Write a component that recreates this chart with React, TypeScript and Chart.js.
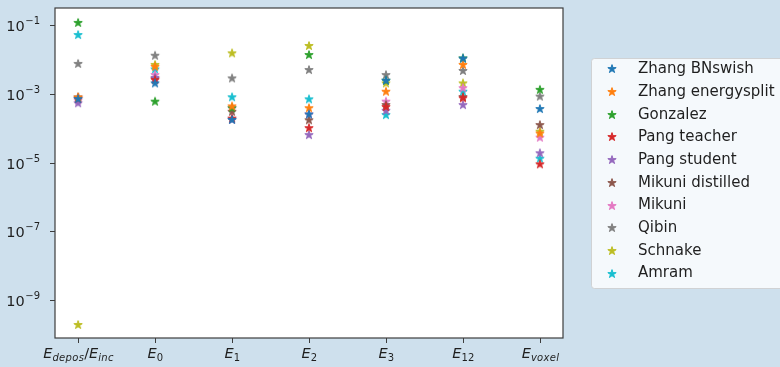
import React, { useEffect, useRef } from "react";
import { Chart, registerables } from "chart.js";

Chart.register(...registerables);

// ---------- data ----------
const categories = ["E_{depos}/E_{inc}", "E_{0}", "E_{1}", "E_{2}", "E_{3}", "E_{12}", "E_{voxel}"];

const seriesNames = [
  "Zhang BNswish",
  "Zhang energysplit",
  "Gonzalez",
  "Pang teacher",
  "Pang student",
  "Mikuni distilled",
  "Mikuni",
  "Qibin",
  "Schnake",
  "Amram",
];

const seriesColors = [
  "#1f77b4",
  "#ff7f0e",
  "#2ca02c",
  "#d62728",
  "#9467bd",
  "#8c564b",
  "#e377c2",
  "#7f7f7f",
  "#bcbd22",
  "#17becf",
];

const zhangBNswish = [7.0e-4, 2.0e-3, 1.75e-4, 2.5e-4, 2.4e-3, 1.05e-2, 3.6e-4];
const zhangEnergysplit = [7.8e-4, 6.1e-3, 4.3e-4, 3.8e-4, 1.15e-3, 6.9e-3, 7.0e-5];
const gonzalez = [1.15e-1, 5.9e-4, 3.8e-4, 1.34e-2, 2.4e-3, 1.07e-2, 1.3e-3];
const pangTeacher = [7.2e-4, 2.5e-3, 1.9e-4, 1.0e-4, 4.1e-4, 7.4e-4, 8.9e-6];
const pangStudent = [5.3e-4, 2.9e-3, 1.75e-4, 6.3e-5, 3.2e-4, 4.7e-4, 1.86e-5];
const mikuniDistilled = [7.8e-4, 2.7e-3, 3.0e-4, 1.7e-4, 4.7e-4, 8.0e-4, 1.23e-4];
const mikuni = [6.4e-4, 3.5e-3, 3.8e-4, 2.5e-4, 5.9e-4, 1.45e-3, 5.3e-5];
const qibin = [7.4e-3, 1.28e-2, 2.8e-3, 4.9e-3, 3.5e-3, 4.6e-3, 8.3e-4];
const schnake = [1.9e-10, 6.9e-3, 1.5e-2, 2.45e-2, 2.0e-3, 2.0e-3, 7.9e-5];
const amram = [5.1e-2, 5.1e-3, 7.9e-4, 6.9e-4, 2.4e-4, 1.15e-3, 1.3e-5];

const seriesValues = [
  zhangBNswish,
  zhangEnergysplit,
  gonzalez,
  pangTeacher,
  pangStudent,
  mikuniDistilled,
  mikuni,
  qibin,
  schnake,
  amram,
];

const yTickValues = [1e-9, 1e-7, 1e-5, 1e-3, 1e-1];
const yTickExponents = ["\u22129", "\u22127", "\u22125", "\u22123", "\u22121"];
const yTickBase = "10";

// ---------- helpers ----------
const FONT = '"DejaVu Sans"';
const BG = "rgb(206,224,237)";

function makeStar(color: string, r = 4.4): HTMLCanvasElement {
  const size = 12;
  const c = document.createElement("canvas");
  c.width = size;
  c.height = size;
  const ctx = c.getContext("2d")!;
  ctx.translate(size / 2, size / 2);
  ctx.beginPath();
  for (let i = 0; i < 10; i++) {
    const rad = i % 2 === 0 ? r : r * 0.381966;
    const a = -Math.PI / 2 + (i * Math.PI) / 5;
    const x = rad * Math.cos(a);
    const y = rad * Math.sin(a);
    if (i === 0) ctx.moveTo(x, y);
    else ctx.lineTo(x, y);
  }
  ctx.closePath();
  ctx.fillStyle = color;
  ctx.fill();
  ctx.strokeStyle = color;
  ctx.lineWidth = 1;
  ctx.stroke();
  return c;
}

type Seg = { text: string; sub: boolean };
function parseLabel(label: string): Seg[] {
  const segs: Seg[] = [];
  const re = /_\{([^}]*)\}|([^_]+)/g;
  let m: RegExpExecArray | null;
  while ((m = re.exec(label))) {
    if (m[1] !== undefined) segs.push({ text: m[1], sub: true });
    else segs.push({ text: m[2], sub: false });
  }
  return segs;
}

function charFont(ch: string, sub: boolean): string {
  const size = sub ? 10 : 14.5;
  const italic = /[A-Za-z]/.test(ch);
  return `${italic ? "italic " : ""}${size}px ${FONT}`;
}

const decorPlugin = {
  id: "decor",
  beforeDraw(chart: any) {
    const { ctx, chartArea: a } = chart;
    ctx.save();
    ctx.fillStyle = BG;
    ctx.fillRect(0, 0, chart.width, chart.height);
    ctx.fillStyle = "#ffffff";
    ctx.fillRect(a.left, a.top, a.right - a.left, a.bottom - a.top);
    ctx.restore();
  },
  afterDraw(chart: any) {
    const { ctx, chartArea: a } = chart;
    const xs = chart.scales.x;
    const ys = chart.scales.y;
    ctx.save();

    // spines
    ctx.strokeStyle = "#3d3d3d";
    ctx.lineWidth = 1.2;
    ctx.strokeRect(a.left, a.top, a.right - a.left, a.bottom - a.top);

    // y ticks + labels
    ctx.strokeStyle = "#3d3d3d";
    ctx.lineWidth = 1;
    ctx.fillStyle = "#1f1f1f";
    yTickValues.forEach((v, i) => {
      const y = Math.round(ys.getPixelForValue(v)) + 0.5;
      ctx.beginPath();
      ctx.moveTo(a.left - 5, y);
      ctx.lineTo(a.left, y);
      ctx.stroke();
      const right = a.left - 15;
      ctx.font = `10px ${FONT}`;
      ctx.textAlign = "right";
      ctx.textBaseline = "alphabetic";
      const exp = yTickExponents[i];
      const wExp = ctx.measureText(exp).width;
      ctx.fillText(exp, right, y - 1.5);
      ctx.font = `14.5px ${FONT}`;
      ctx.fillText(yTickBase, right - wExp - 0.5, y + 5.5);
    });

    // x ticks + labels
    categories.forEach((lab, i) => {
      const x = Math.round(xs.getPixelForValue(i)) + 0.5;
      ctx.beginPath();
      ctx.moveTo(x, a.bottom);
      ctx.lineTo(x, a.bottom + 5);
      ctx.stroke();
      const segs = parseLabel(lab);
      let total = 0;
      segs.forEach((s) => {
        for (const ch of s.text) {
          ctx.font = charFont(ch, s.sub);
          total += ctx.measureText(ch).width + (s.sub ? 0.3 : 0);
        }
      });
      let cx = x - total / 2;
      ctx.textAlign = "left";
      ctx.textBaseline = "alphabetic";
      segs.forEach((s) => {
        for (const ch of s.text) {
          ctx.font = charFont(ch, s.sub);
          ctx.fillText(ch, cx, s.sub ? a.bottom + 23 : a.bottom + 20);
          cx += ctx.measureText(ch).width + (s.sub ? 0.3 : 0);
        }
      });
    });

    // legend
    const bx = 591.5;
    const by = 58.5;
    const bw = 200;
    const bh = 230;
    const r = 3;
    ctx.beginPath();
    ctx.moveTo(bx + r, by);
    ctx.lineTo(bx + bw - r, by);
    ctx.arcTo(bx + bw, by, bx + bw, by + r, r);
    ctx.lineTo(bx + bw, by + bh - r);
    ctx.arcTo(bx + bw, by + bh, bx + bw - r, by + bh, r);
    ctx.lineTo(bx + r, by + bh);
    ctx.arcTo(bx, by + bh, bx, by + bh - r, r);
    ctx.lineTo(bx, by + r);
    ctx.arcTo(bx, by, bx + r, by, r);
    ctx.closePath();
    ctx.fillStyle = "rgba(255,255,255,0.8)";
    ctx.fill();
    ctx.strokeStyle = "rgba(204,204,204,0.8)";
    ctx.lineWidth = 1;
    ctx.stroke();

    chart.data.datasets.forEach((ds: any, i: number) => {
      const cy = 69.3 + i * 22.7;
      const img = ds.pointStyle as HTMLCanvasElement;
      ctx.drawImage(img, 612 - img.width / 2, Math.round(cy) - img.height / 2);
      ctx.font = `15px ${FONT}`;
      ctx.fillStyle = "#1f1f1f";
      ctx.textAlign = "left";
      ctx.textBaseline = "middle";
      ctx.fillText(ds.label, 638, cy);
    });

    ctx.restore();
  },
};

export default function App() {
  const ref = useRef<HTMLCanvasElement | null>(null);

  useEffect(() => {
    if (!ref.current) return;
    const datasets = seriesNames.map((name, si) => {
      const star = makeStar(seriesColors[si]);
      return {
        label: name,
        data: seriesValues[si].map((v, ci) => ({ x: ci, y: v })),
        showLine: false,
        pointStyle: star,
        pointRadius: 6,
        pointHoverRadius: 6,
        backgroundColor: seriesColors[si],
        borderColor: seriesColors[si],
        clip: false as any,
      };
    });

    const chart = new Chart(ref.current, {
      type: "line",
      data: { datasets },
      options: {
        animation: false,
        responsive: true,
        maintainAspectRatio: false,
        layout: { padding: { left: 0, top: 8, right: 217, bottom: 0 } },
        plugins: { legend: { display: false }, tooltip: { enabled: false } },
        events: [],
        scales: {
          x: {
            type: "linear",
            min: -0.3,
            max: categories.length - 1 + 0.3,
            ticks: { display: false },
            grid: { display: false },
            border: { display: false },
            afterBuildTicks: (s: any) => {
              s.ticks = categories.map((_, i) => ({ value: i }));
            },
            afterFit: (s: any) => {
              s.height = 29;
            },
          },
          y: {
            type: "logarithmic",
            min: Math.pow(10, -10.1),
            max: Math.pow(10, -0.506),
            ticks: { display: false },
            grid: { display: false },
            border: { display: false },
            afterBuildTicks: (s: any) => {
              s.ticks = yTickValues.map((v) => ({ value: v }));
            },
            afterFit: (s: any) => {
              s.width = 55;
            },
          },
        },
      },
      plugins: [decorPlugin],
    });
    return () => chart.destroy();
  }, []);

  return (
    <div
      style={{
        position: "fixed",
        left: 0,
        top: 0,
        width: 780,
        height: 367,
        background: BG,
      }}
    >
      <canvas ref={ref} />
    </div>
  );
}
